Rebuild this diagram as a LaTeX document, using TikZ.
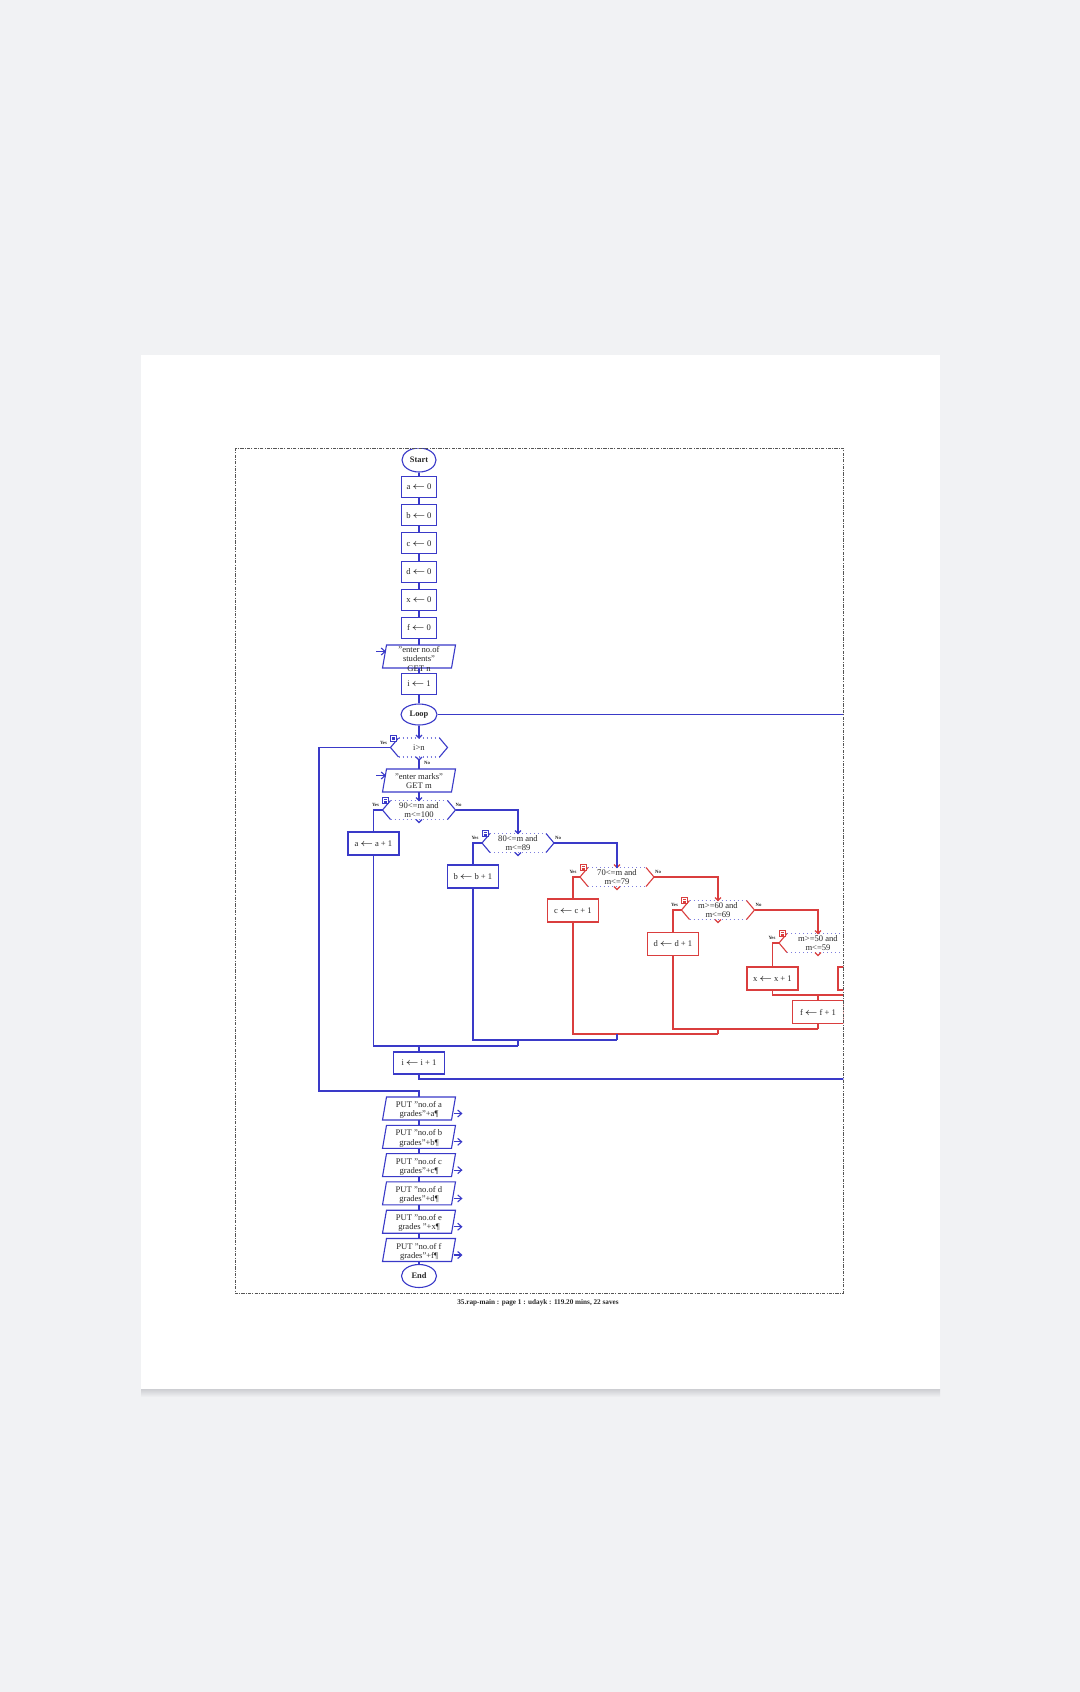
\documentclass[tikz,border=0pt]{standalone}
\usepackage{fontspec}
\setmainfont{Liberation Serif}
\usetikzlibrary{shapes.geometric,calc,arrows.meta}
\definecolor{rblue}{RGB}{58,58,200}
\definecolor{rred}{RGB}{218,62,62}
\definecolor{dotc}{RGB}{125,125,222}
\definecolor{bgc}{RGB}{241,242,244}
\definecolor{shad}{RGB}{205,206,210}
\definecolor{framec}{RGB}{85,85,85}
\definecolor{txtc}{RGB}{40,40,40}
\newcommand\lar{\,$\leftarrow$\,}
\tikzset{
  conn/.style={line width=0.55pt},
  bl/.style={draw=rblue,conn},
  rd/.style={draw=rred,conn},
  txt/.style={font=\fontsize{4.3}{4.6}\selectfont, text=txtc, align=center, inner sep=0pt},
  box/.style={rectangle, line width=0.55pt, minimum width=17.5pt, minimum height=10.5pt, inner sep=0pt, txt},
  bbox/.style={box, minimum width=25.5pt, minimum height=11.5pt},
  oval/.style={ellipse, line width=0.55pt, minimum width=17pt, minimum height=12pt, inner sep=0pt, txt, font=\fontsize{4.2}{4.6}\selectfont\bfseries},
  lbl/.style={font=\fontsize{2.4}{2.6}\selectfont\bfseries, text=txtc, inner sep=0pt},
  dotl/.style={draw=dotc, line width=0.55pt, dash pattern=on 0.6pt off 1.4pt},
  outarr/.style={bl,-{Straight Barb[length=2pt,width=3.5pt]}},
}
% decision: name, cx, cy, half width (px), colour, text
\newcommand\mydec[6]{%
  \node[txt, minimum width=#4pt, minimum height=9.5pt, outer sep=0pt] (#1) at (#2,#3) {#6};
  \draw[dotl] ($(#1.north west)+(8,0)$) -- ($(#1.north east)+(-8,0)$);
  \draw[dotl] ($(#1.south west)+(8,0)$) -- ($(#1.south east)+(-8,0)$);
  \draw[draw=#5,conn] ($(#1.north west)+(8,0)$) -- (#1.west) -- ($(#1.south west)+(8,0)$);
  \draw[draw=#5,conn] ($(#1.north east)+(-8,0)$) -- (#1.east) -- ($(#1.south east)+(-8,0)$);
  \draw[draw=#5,conn] ($(#1.north)+(-3,-3)$) -- (#1.north) -- ($(#1.north)+(3,-3)$);
  \draw[draw=#5,conn] ($(#1.south)+(-3,0)$) -- ($(#1.south)+(0,3)$) -- ($(#1.south)+(3,0)$);
  \filldraw[fill=white,draw=#5,line width=0.4pt] ($(#1.north west)+(0,-3)$) rectangle +(6,6);
  \draw[draw=#5,line width=0.3pt] ($(#1.north west)+(1.5,-1.2)$) -- +(3,0) ($(#1.north west)+(1.5,0.3)$) -- +(3,0) ($(#1.north west)+(1.5,1.6)$) -- +(3,0);
  \node[lbl] (#1yes) at ($(#1.west)+(-7,-5)$) {Yes};
}
% parallelogram: name, cx, cy, text, text shift (px)
\newcommand\mypg[5]{%
  \node[minimum width=34.5pt, minimum height=11.5pt, inner sep=0pt, outer sep=0pt] (#1) at (#2,#3) {};
  \draw[bl] ($(#1.south west)+(-2,0)$) -- ($(#1.north west)+(2,0)$) -- ($(#1.north east)+(2,0)$) -- ($(#1.south east)+(-2,0)$) -- cycle;
  \node[txt] (#1t) at ($(#1.center)+(0,#5)$) {#4};
}
\begin{document}
\begin{tikzpicture}[x=0.5pt,y=-0.5pt]
\useasboundingbox (0,0) rectangle (1080,1692);
\fill[bgc] (0,0) rectangle (1080,1692);
\shade[top color=shad, bottom color=bgc] (141,1389) rectangle (940,1397);
\fill[white] (141,355) rectangle (940,1389);

\begin{scope}
\clip (235,448) rectangle (843.3,1293);
% main column
\node[oval, draw=rblue] (start) at (419,460) {Start};
\node[box, draw=rblue] (a0) at (419,487) {a\lar 0};
\node[box, draw=rblue] (b0) at (419,515.2) {b\lar 0};
\node[box, draw=rblue] (c0) at (419,543.4) {c\lar 0};
\node[box, draw=rblue] (d0) at (419,571.6) {d\lar 0};
\node[box, draw=rblue] (x0) at (419,599.8) {x\lar 0};
\node[box, draw=rblue] (f0) at (419,628) {f\lar 0};
\mypg{gn}{419}{656.5}{"enter no.of\\students"\\GET n}{2.5}
\node[box, draw=rblue] (i1) at (419,684) {i\lar 1};
\node[oval, draw=rblue, minimum width=18pt, minimum height=10.5pt] (loop) at (419,714.5) {Loop};
\mydec{ign}{419}{747.5}{28.5}{rblue}{i>n}
\node[lbl] (ignno) at (427,763) {No};
\mypg{gm}{419}{780.5}{"enter marks"\\GET m}{0.5}

\draw[bl] (start) -- (a0);
\draw[bl] (a0) -- (b0);
\draw[bl] (b0) -- (c0);
\draw[bl] (c0) -- (d0);
\draw[bl] (d0) -- (x0);
\draw[bl] (x0) -- (f0);
\draw[bl] (f0) -- (gn);
\draw[bl] (gn) -- (i1);
\draw[bl] (i1) -- (loop);
\draw[bl] (loop) -- (ign.north);
\draw[bl] (ign.south) ++(0,3) -- (gm.north);
\coordinate (gnin) at (376,651.5);
\coordinate (gmin) at (376,775.5);
\draw[outarr] (gnin) -- ++(10,0);
\draw[outarr] (gmin) -- ++(10,0);

% decisions
\mydec{d90}{419}{810}{36.5}{rblue}{90<=m and\\m<=100}
\node[lbl] (d90no) at ($(d90.east)+(3,-5)$) {No};
\draw[bl] (gm.south) -- (d90.north);
\node[bbox, draw=rblue] (aa) at (373.5,843.5) {a\lar a + 1};
\mydec{d80}{518}{843}{36}{rblue}{80<=m and\\m<=89}
\node[lbl] (d80no) at ($(d80.east)+(4,-5)$) {No};
\node[bbox, draw=rblue] (bb) at (473,876.5) {b\lar b + 1};
\mydec{d70}{617}{877}{37}{rred}{70<=m and\\m<=79}
\node[lbl] (d70no) at ($(d70.east)+(4,-5)$) {No};
\node[bbox, draw=rred] (cc) at (573,910.5) {c\lar c + 1};
\mydec{d60}{718}{910}{36.5}{rred}{m>=60 and\\m<=69}
\node[lbl] (d60no) at ($(d60.east)+(4,-5)$) {No};
\node[bbox, draw=rred] (dd) at (673,944) {d\lar d + 1};
\mydec{d50}{818}{943}{39}{rred}{m>=50 and\\m<=59}
\node[lbl] (d50no) at ($(d50.east)+(4,-5)$) {No};
\node[bbox, draw=rred] (xx) at (772.5,978.5) {x\lar x + 1};
\node[bbox, draw=rred] (pp) at (863.5,978.5) {};
\node[bbox, draw=rred] (ff) at (818,1012) {f\lar f + 1};

\draw[bl] (d90.west) -| (aa.north);
\draw[bl] (d90.east) -| (d80.north);
\draw[bl] (d80.west) -| (bb.north);
\draw[bl] (d80.east) -| (d70.north);
\draw[rd] (d70.west) -| (cc.north);
\draw[rd] (d70.east) -| (d60.north);
\draw[rd] (d60.west) -| (dd.north);
\draw[rd] (d60.east) -| (d50.north);
\draw[rd] (d50.west) -| (xx.north);
\draw[rd] (d50.east) -| (pp.north);

% joins
\coordinate (j50R) at (863.5,995);
\coordinate (j50M) at (818,995);
\coordinate (j60R) at (818,1029);
\coordinate (j60M) at (718,1029);
\coordinate (j70R) at (718,1034);
\coordinate (j70M) at (617,1034);
\coordinate (j80R) at (617,1040);
\coordinate (j80M) at (518,1040);
\coordinate (j90R) at (518,1046);
\coordinate (j90M) at (419,1046);
\draw[rd] (xx.south) |- (j50R) -- (pp.south);
\draw[rd] (j50M) -- (ff.north);
\draw[rd] (ff.south) -- (j60R);
\draw[rd] (dd.south) |- (j60R);
\draw[rd] (j60M) -- (j70R);
\draw[rd] (cc.south) |- (j70R);
\draw[bl] (j70M) -- (j80R);
\draw[bl] (bb.south) |- (j80R);
\draw[bl] (j80M) -- (j90R);
\draw[bl] (aa.south) |- (j90R);

\node[box, draw=rblue, minimum width=25.5pt, minimum height=11pt] (inc) at (419,1063) {i\lar i + 1};
\draw[bl] (j90M) -- (inc.north);
\coordinate (lpB) at (900,1079);
\draw[bl] (inc.south) |- (lpB);
\coordinate (lpC) at (900,714.5);
\draw[bl] (loop.east) -- (lpC);

% outputs
\mypg{p1}{419}{1108.5}{PUT "no.of a\\grades"+a¶}{1.5}
\mypg{p2}{419}{1136.8}{PUT "no.of b\\grades"+b¶}{1.5}
\mypg{p3}{419}{1165.1}{PUT "no.of c\\grades"+c¶}{1.5}
\mypg{p4}{419}{1193.4}{PUT "no.of d\\grades"+d¶}{1.5}
\mypg{p5}{419}{1221.7}{PUT "no.of e\\grades "+x¶}{1.5}
\mypg{p6}{419}{1250}{PUT "no.of f\\grades"+f¶}{1.5}
\node[oval, draw=rblue, minimum width=17.5pt, minimum height=11.5pt] (endn) at (419,1276) {End};

\coordinate (lpA) at (319,1091);
\draw[bl] (ign.west) -| (lpA) -| (p1.north);
\draw[bl] (p1) -- (p2);
\draw[bl] (p2) -- (p3);
\draw[bl] (p3) -- (p4);
\draw[bl] (p4) -- (p5);
\draw[bl] (p5) -- (p6);
\draw[bl] (p6) -- (endn);
\foreach \p in {p1,p2,p3,p4,p5,p6} {
  \draw[outarr] ($(\p.east)+(0,5)$) -- ($(\p.east)+(9,5)$);
}
\end{scope}

\draw[framec, line width=0.5pt, dash pattern=on 1.6pt off 0.6pt on 0.5pt off 0.6pt] (235,448) rectangle (843,1293);
\node[font=\fontsize{3.6}{4}\selectfont\bfseries, text=txtc, inner sep=0pt] (foot) at (538,1303) {35.rap-main : page 1 : udayk : 119.20 mins, 22 saves};
\end{tikzpicture}
\end{document}
